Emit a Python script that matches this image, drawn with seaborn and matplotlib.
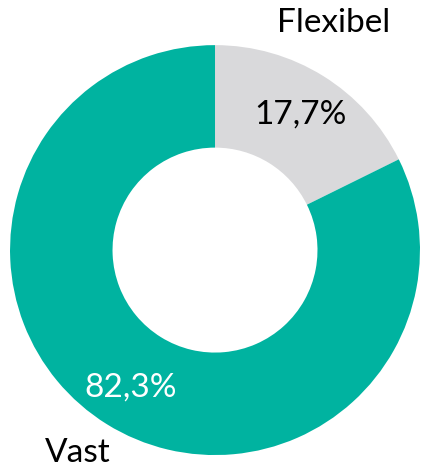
import matplotlib
matplotlib.use("Agg")
import matplotlib.pyplot as plt
import seaborn as sns

# data
categories = ["Vast", "Flexibel"]
shares = [82.3, 17.7]
pct_labels = ["82,3%", "17,7%"]

sns.set_theme(style="white")
plt.rcParams['font.family'] = ['Lato', 'DejaVu Sans']

colors = ["#00B3A0", "#D9D9DB"]

fig = plt.figure(figsize=(4.21, 4.68), dpi=100)
ax = fig.add_axes([0, 0, 1, 1])

# Flexibel starts at top and runs clockwise
wedges, _ = ax.pie(shares[::-1], colors=colors[::-1], startangle=90, counterclock=False,
                   radius=1.0, wedgeprops=dict(width=0.5, edgecolor="none"))

ax.set_xlim(-1.049, 1.005)
ax.set_ylim(-1.063, 1.22)
ax.set_aspect("equal")
ax.axis("off")

# labels
fs = 24
ax.text(0.58, 1.11, categories[1], ha="center", va="center", fontsize=fs, color="black")
ax.text(0.415, 0.66, pct_labels[1], ha="center", va="center", fontsize=fs, color="black")
ax.text(-0.41, -0.67, pct_labels[0], ha="center", va="center", fontsize=fs, color="white")
ax.text(-0.67, -0.99, categories[0], ha="center", va="center", fontsize=fs, color="black")

fig.savefig("out.png", dpi=100)
